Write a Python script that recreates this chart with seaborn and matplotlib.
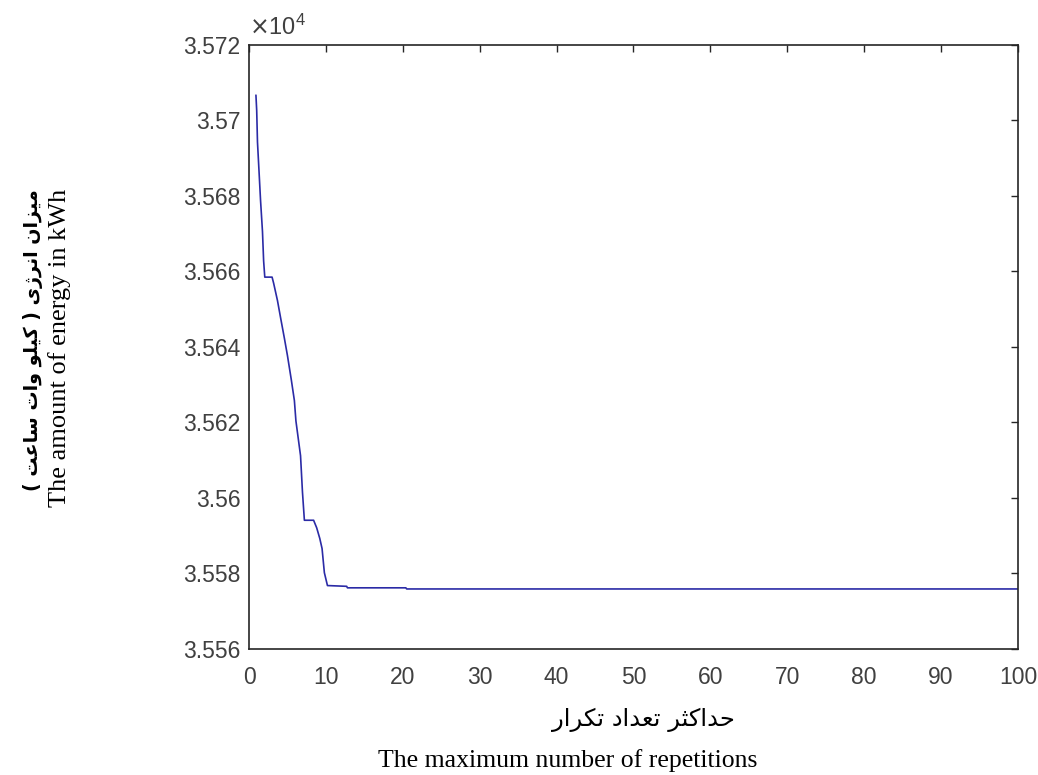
import matplotlib
matplotlib.use("Agg")
import matplotlib.pyplot as plt
import seaborn as sns
import pandas as pd
from matplotlib.ticker import FuncFormatter

# Data (energy in kWh)
iterations = [0.9, 1.0, 1.1, 1.3, 1.5, 1.75, 1.9, 2.05, 3.0, 3.2, 3.7, 4.1, 4.6, 5.0,
              5.5, 5.9, 6.1, 6.4, 6.7, 6.95, 7.2, 8.4, 8.8, 9.2, 9.5, 9.8, 10.2,
              12.7, 12.8, 20.4, 20.5, 100.0]
energy = [35706.7, 35702.6, 35694.3, 35686.6, 35678.8, 35670.6, 35662.8, 35658.5,
          35658.5, 35656.9, 35652.3, 35647.8, 35642.3, 35637.7, 35631.3, 35625.8,
          35620.4, 35615.8, 35611.2, 35601.6, 35594.1, 35594.1, 35592.1, 35589.3,
          35586.6, 35580.2, 35576.8, 35576.6, 35576.2, 35576.2, 35575.9, 35575.9]
x_ticks = list(range(0, 101, 10))
y_ticks = list(range(35560, 35721, 20))

ylabel_fa = "میزان انرژی ( کیلو وات ساعت )"
ylabel_en = "The amount of energy in kWh"
xlabel_fa = "حداکثر تعداد تکرار"
xlabel_en = "The maximum number of repetitions"

# matplotlib has no Arabic shaping, so pick presentation forms by hand
FORMS = {
    'ا': ('\uFE8D', '\uFE8E'),
    'د': ('\uFEA9', '\uFEAA'),
    'ر': ('\uFEAD', '\uFEAE'),
    'ز': ('\uFEAF', '\uFEB0'),
    'ژ': ('\uFB8A', '\uFB8B'),
    'و': ('\uFEED', '\uFEEE'),
    'م': ('\uFEE1', '\uFEE2', '\uFEE3', '\uFEE4'),
    'ن': ('\uFEE5', '\uFEE6', '\uFEE7', '\uFEE8'),
    'ت': ('\uFE95', '\uFE96', '\uFE97', '\uFE98'),
    'ث': ('\uFE99', '\uFE9A', '\uFE9B', '\uFE9C'),
    'ح': ('\uFEA1', '\uFEA2', '\uFEA3', '\uFEA4'),
    'س': ('\uFEB1', '\uFEB2', '\uFEB3', '\uFEB4'),
    'ع': ('\uFEC9', '\uFECA', '\uFECB', '\uFECC'),
    'ل': ('\uFEDD', '\uFEDE', '\uFEDF', '\uFEE0'),
    'ک': ('\uFB8E', '\uFB8F', '\uFB90', '\uFB91'),
    'ی': ('\uFBFC', '\uFBFD', '\uFBFE', '\uFBFF'),
}


def shape(text):
    out = []
    for i, ch in enumerate(text):
        f = FORMS.get(ch)
        if f is None:
            out.append(ch)
            continue
        prev = text[i - 1] if i > 0 else ''
        nxt = text[i + 1] if i + 1 < len(text) else ''
        join_prev = prev in FORMS and len(FORMS[prev]) == 4
        join_next = len(f) == 4 and nxt in FORMS
        if join_prev and join_next:
            out.append(f[3])
        elif join_prev:
            out.append(f[1])
        elif join_next:
            out.append(f[2])
        else:
            out.append(f[0])
    vis = ''.join(reversed(out))
    return vis.translate(str.maketrans('()', ')('))


sns.set_theme(style="white")
plt.rcParams['font.family'] = ['Liberation Sans', 'DejaVu Sans']

df = pd.DataFrame({'iteration': iterations, 'energy': energy})

fig = plt.figure(figsize=(10.38, 7.75), dpi=100)
ax = fig.add_axes([0.2399, 0.1626, 0.7408, 0.7794])
sns.lineplot(data=df, x='iteration', y='energy', ax=ax, color='#2b2ba6',
             linewidth=1.2, estimator=None, sort=False)

ax.set_xlim(0, 100)
ax.set_ylim(35560, 35720)
ax.set_xticks(x_ticks)
ax.set_yticks(y_ticks)
ax.yaxis.set_major_formatter(FuncFormatter(lambda v, p: f"{v / 1e4:.4g}"))
ax.set_xlabel('')
ax.set_ylabel('')
ax.tick_params(direction='in', top=True, right=True, length=5, width=1,
               labelsize=16.5, labelcolor='#404040', color='#262626')
ax.tick_params(axis='x', pad=12)
ax.tick_params(axis='y', pad=6)
for s in ax.spines.values():
    s.set_color('#262626')
    s.set_linewidth(1.2)

ax.text(0.0, 1.008, r'$\times\mathregular{10^{4}}$', transform=ax.transAxes,
        fontsize=17, color='#404040', ha='left', va='bottom')

# axis titles, Persian over English
fig.text(0.620, 0.071, shape(xlabel_fa), family='DejaVu Sans', fontsize=17.5,
         ha='center', va='center', color='black')
fig.text(0.547, 0.019, xlabel_en, family='Liberation Serif', fontsize=18.5,
         ha='center', va='center', color='black')
fig.text(0.032, 0.561, shape(ylabel_fa), family='DejaVu Sans', fontweight='bold',
         fontsize=13.8, rotation=90, ha='center', va='center', color='black')
fig.text(0.057, 0.551, ylabel_en, family='Liberation Serif', fontsize=19,
         rotation=90, ha='center', va='center', color='black')

fig.savefig('out.png', dpi=100)
